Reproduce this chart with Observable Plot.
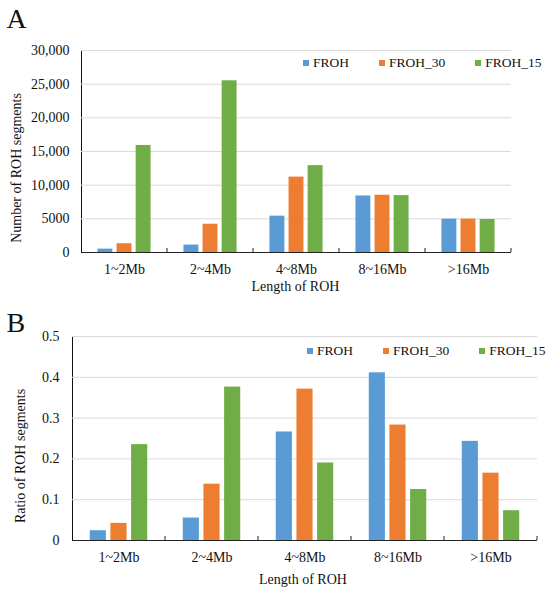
<!DOCTYPE html>
<html>
<head>
<meta charset="utf-8">
<script src="https://cdn.jsdelivr.net/npm/d3@7"></script>
<script src="https://cdn.jsdelivr.net/npm/@observablehq/plot@0.6"></script>
<style>
  body { margin: 0; background: #fff; }
  #root { position: relative; width: 550px; height: 594px; overflow: hidden;
          font-family: "Liberation Serif", "Times New Roman", serif; color: #111; }
  #root svg { display: block; }
  .abs { position: absolute; white-space: nowrap; line-height: 1; }
  .lab { font-size: 14px; }
  .panel { font-size: 28px; }
  .rot { transform: translate(-50%, -50%) rotate(-90deg); }
  .cx { transform: translateX(-50%); }
  .leg { position: absolute; }
  .leg .lgA-swatches, .leg .lgB-swatches { font-family: "Liberation Serif", "Times New Roman", serif !important;
      font-size: 13.5px !important; line-height: 14px; min-height: 0 !important; margin: 0 !important;
      color: #111; flex-wrap: nowrap !important; }
  .leg .lgA-swatch, .leg .lgB-swatch { margin-right: 30px !important; }
  .leg .lgA-swatch > svg, .leg .lgB-swatch > svg { margin-right: 4px !important; }
</style>
</head>
<body>
<div id="root"></div>
<script>
// ---- data ----
const categories = ["1~2Mb", "2~4Mb", "4~8Mb", "8~16Mb", ">16Mb"];
const series = ["FROH", "FROH_30", "FROH_15"];
const colors = ["#5B9BD5", "#ED7D31", "#70AD47"];

// Panel A: number of ROH segments
const countFROH   = [500, 1100, 5400, 8400, 4950];
const countFROH30 = [1300, 4200, 11200, 8500, 4950];
const countFROH15 = [15900, 25500, 12900, 8450, 4900];
const countTicks = [0, 5000, 10000, 15000, 20000, 25000, 30000];
const countTickLabels = ["0", "5000", "10,000", "15,000", "20,000", "25,000", "30,000"];

// Panel B: ratio of ROH segments
const ratioFROH   = [0.024, 0.055, 0.266, 0.411, 0.243];
const ratioFROH30 = [0.042, 0.138, 0.371, 0.283, 0.165];
const ratioFROH15 = [0.235, 0.376, 0.190, 0.125, 0.073];
const ratioTicks = [0, 0.1, 0.2, 0.3, 0.4, 0.5];
const ratioTickLabels = ["0", "0.1", "0.2", "0.3", "0.4", "0.5"];

const xLabel = "Length of ROH";
const yLabelA = "Number of ROH segments";
const yLabelB = "Ratio of ROH segments";

function toRows(arrs) {
  const rows = [];
  categories.forEach((c, i) => series.forEach((s, j) => rows.push({cat: c, series: s, value: arrs[j][i]})));
  return rows;
}
const rowsA = toRows([countFROH, countFROH30, countFROH15]);
const rowsB = toRows([ratioFROH, ratioFROH30, ratioFROH15]);

// small inward tick at the right edge of each category group on the baseline
function groupTicks(index, scales, values, dims) {
  const x = dims.width - dims.marginRight;
  const y0 = scales.y(0);
  return d3.create("svg:line")
    .attr("x1", x).attr("x2", x).attr("y1", y0).attr("y2", y0 - 4)
    .attr("stroke", "#222").attr("stroke-width", 1).node();
}

function chart(rows, opts) {
  return Plot.plot({
    width: 550,
    height: opts.height,
    marginTop: opts.mt, marginBottom: opts.mb, marginLeft: opts.ml, marginRight: opts.mr,
    style: {fontFamily: "'Liberation Serif', 'Times New Roman', serif", fontSize: "14px", color: "#111", background: "transparent", overflow: "visible"},
    fx: {domain: categories, padding: 0, label: null, tickSize: 0, tickPadding: 12},
    x: {domain: series, axis: null, paddingInner: 0.22, paddingOuter: 0.86, round: false},
    y: {domain: opts.domain, ticks: opts.ticks, tickFormat: d => opts.labels[opts.ticks.indexOf(d)],
        tickSize: 0, tickPadding: opts.tp, label: null, line: true},
    color: {domain: series, range: colors},
    marks: [
      Plot.gridY({ticks: opts.ticks, stroke: "#d9d9d9", strokeOpacity: 1, strokeWidth: 1}),
      Plot.barY(rows, {fx: "cat", x: "series", y: "value", fill: "series"}),
      Plot.ruleY([0], {stroke: "#222", strokeWidth: 1}),
      groupTicks
    ]
  });
}

const root = document.getElementById("root");

const svgA = chart(rowsA, {height: 295, mt: 50, mb: 43, ml: 80, mr: 39, domain: [0, 30000], ticks: countTicks, labels: countTickLabels, tp: 12});
svgA.style.position = "absolute"; svgA.style.left = "0px"; svgA.style.top = "0px";
root.appendChild(svgA);

const svgB = chart(rowsB, {height: 299, mt: 41, mb: 54, ml: 70, mr: 12, domain: [0, 0.5], ticks: ratioTicks, labels: ratioTickLabels, tp: 13});
svgB.style.position = "absolute"; svgB.style.left = "0px"; svgB.style.top = "295px";
root.appendChild(svgB);

function addText(text, cls, css) {
  const d = document.createElement("div");
  d.className = "abs " + cls;
  d.textContent = text;
  Object.assign(d.style, css);
  root.appendChild(d);
}
addText("A", "panel", {left: "6.5px", top: "4.5px"});
addText("B", "panel", {left: "6.5px", top: "308.5px"});
addText(yLabelA, "lab rot", {left: "16.5px", top: "168px"});
addText(yLabelB, "lab rot", {left: "21px", top: "455.5px"});
addText(xLabel, "lab cx", {left: "295.5px", top: "280.3px"});
addText(xLabel, "lab cx", {left: "303px", top: "573.3px"});

function addLegend(cls, left, top) {
  const wrap = document.createElement("div");
  wrap.className = "leg";
  wrap.style.left = left + "px";
  wrap.style.top = top + "px";
  wrap.appendChild(Plot.legend({color: {domain: series, range: colors, type: "ordinal"}, swatchSize: 6, className: cls}));
  root.appendChild(wrap);
}
addLegend("lgA", 303, 56);
addLegend("lgB", 307, 344);
</script>
</body>
</html>
